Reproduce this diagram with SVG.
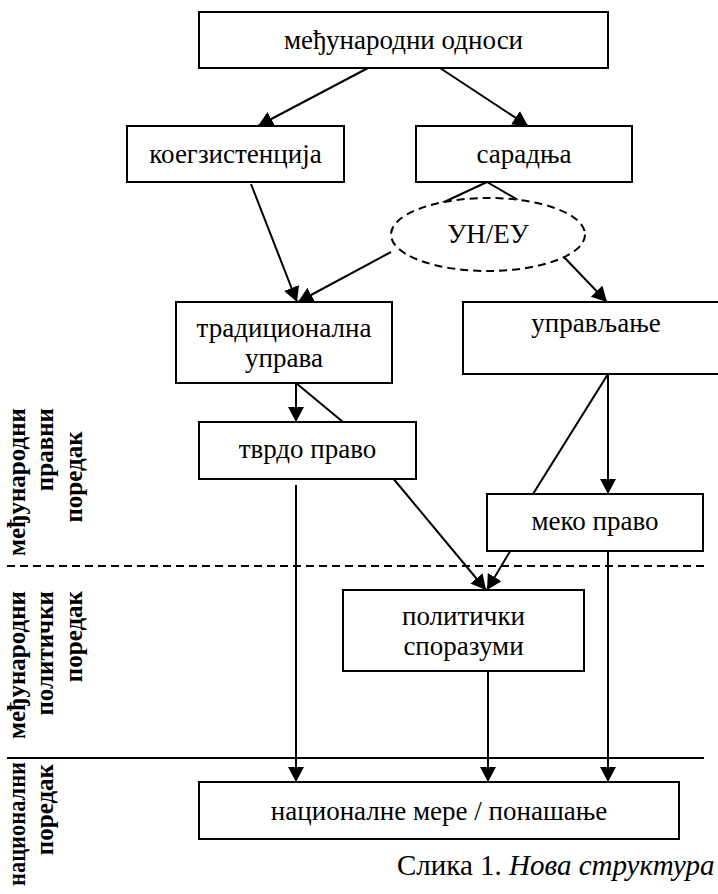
<svg xmlns="http://www.w3.org/2000/svg" width="718" height="894" viewBox="0 0 718 894">
<style>
  .box { fill: #fff; stroke: #000; stroke-width: 2; }
  .t { font-family: "Liberation Serif", "Times New Roman", serif; font-size: 27px; fill: #000; text-anchor: middle; }
  .side { font-family: "Liberation Serif", "Times New Roman", serif; font-size: 25px; font-weight: bold; fill: #000; }
  .ln { stroke: #000; stroke-width: 2; fill: none; }
  .arr { stroke: #000; stroke-width: 2; fill: none; marker-end: url(#ah); }
  .dash { stroke: #000; stroke-width: 2; fill: none; stroke-dasharray: 8 5; }
</style>
<defs>
  <marker id="ah" markerUnits="userSpaceOnUse" markerWidth="17" markerHeight="17" refX="15" refY="8" orient="auto">
    <path d="M0,0 L15,8 L0,16 z" fill="#000"/>
  </marker>
</defs>
<rect width="718" height="894" fill="#fff"/>

<g id="separators">
  <line class="dash" x1="7" y1="566" x2="704" y2="566"/>
  <line class="ln" x1="7" y1="758" x2="704" y2="758"/>
</g>

<g id="side-labels">
  <text class="side" text-anchor="end" transform="translate(25,408) rotate(-90)">међународни</text>
  <text class="side" text-anchor="end" transform="translate(53,408) rotate(-90)">правни</text>
  <text class="side" text-anchor="middle" transform="translate(82,477) rotate(-90)">поредак</text>
  <text class="side" text-anchor="end" transform="translate(25,591) rotate(-90)">међународни</text>
  <text class="side" text-anchor="end" transform="translate(53,591) rotate(-90)">политички</text>
  <text class="side" text-anchor="end" transform="translate(82,591) rotate(-90)">поредак</text>
  <text class="side" text-anchor="end" textLength="124" lengthAdjust="spacingAndGlyphs" transform="translate(25,762) rotate(-90)">национални</text>
  <text class="side" text-anchor="end" transform="translate(53,764) rotate(-90)">поредак</text>
</g>

<g id="connectors">
  <line class="arr" x1="368" y1="68" x2="258" y2="126"/>
  <line class="arr" x1="440" y1="68" x2="528" y2="126"/>
  <line class="ln" x1="487" y1="182" x2="442" y2="203"/>
  <line class="ln" x1="487" y1="182" x2="518" y2="200"/>
  <line class="arr" x1="251" y1="184" x2="297" y2="302"/>
  <line class="arr" x1="391" y1="252" x2="298" y2="302"/>
  <line class="arr" x1="562" y1="255" x2="607" y2="302"/>
  <line class="arr" x1="296" y1="383" x2="296" y2="422"/>
  <line class="ln" x1="296" y1="383" x2="343" y2="422"/>
  <line class="arr" x1="608" y1="374" x2="608" y2="494"/>
  <line class="ln" x1="608" y1="374" x2="533" y2="494"/>
  <line class="arr" x1="392" y1="477" x2="486" y2="590"/>
  <line class="arr" x1="512" y1="548" x2="487" y2="590"/>
  <line class="arr" x1="296" y1="485" x2="296" y2="782"/>
  <line class="arr" x1="488" y1="668" x2="488" y2="782"/>
  <line class="arr" x1="608" y1="551" x2="608" y2="782"/>
</g>

<g id="n-medjunarodni-odnosi">
  <rect class="box" x="199" y="12" width="409" height="56"/>
  <text class="t" x="403.5" y="49">међународни односи</text>
</g>
<g id="n-koegzistencija">
  <rect class="box" x="127" y="126" width="217" height="56"/>
  <text class="t" x="235.5" y="163">коегзистенција</text>
</g>
<g id="n-saradnja">
  <rect class="box" x="416" y="126" width="216" height="56"/>
  <text class="t" x="524" y="163">сарадња</text>
</g>
<g id="n-un-eu">
  <ellipse cx="488" cy="234.5" rx="97" ry="36.5" fill="#fff" stroke="#000" stroke-width="2" stroke-dasharray="8 5"/>
  <text class="t" x="488" y="243">УН/ЕУ</text>
</g>
<g id="n-tradicionalna-uprava">
  <rect class="box" x="176" y="302" width="216" height="81"/>
  <text class="t" x="284" y="337">традиционална</text>
  <text class="t" x="284" y="367">управа</text>
</g>
<g id="n-upravljanje">
  <rect class="box" x="463" y="302" width="270" height="72"/>
  <text class="t" x="596" y="332">управљање</text>
</g>
<g id="n-tvrdo-pravo">
  <rect class="box" x="199" y="422" width="217" height="57"/>
  <text class="t" x="307.5" y="458">тврдо право</text>
</g>
<g id="n-meko-pravo">
  <rect class="box" x="487" y="494" width="216" height="57"/>
  <text class="t" x="595" y="530">меко право</text>
</g>
<g id="n-politicki-sporazumi">
  <rect class="box" x="343" y="590" width="241" height="81"/>
  <text class="t" x="463.5" y="625">политички</text>
  <text class="t" x="463.5" y="655">споразуми</text>
</g>
<g id="n-nacionalne-mere">
  <rect class="box" x="199" y="782" width="480" height="57"/>
  <text class="t" x="439" y="820">националне мере / понашање</text>
</g>

<g id="caption">
  <text x="397" y="875" font-family="Liberation Serif, Times New Roman, serif" font-size="29" fill="#000">Слика 1. <tspan font-style="italic">Нова структура</tspan></text>
</g>
</svg>
